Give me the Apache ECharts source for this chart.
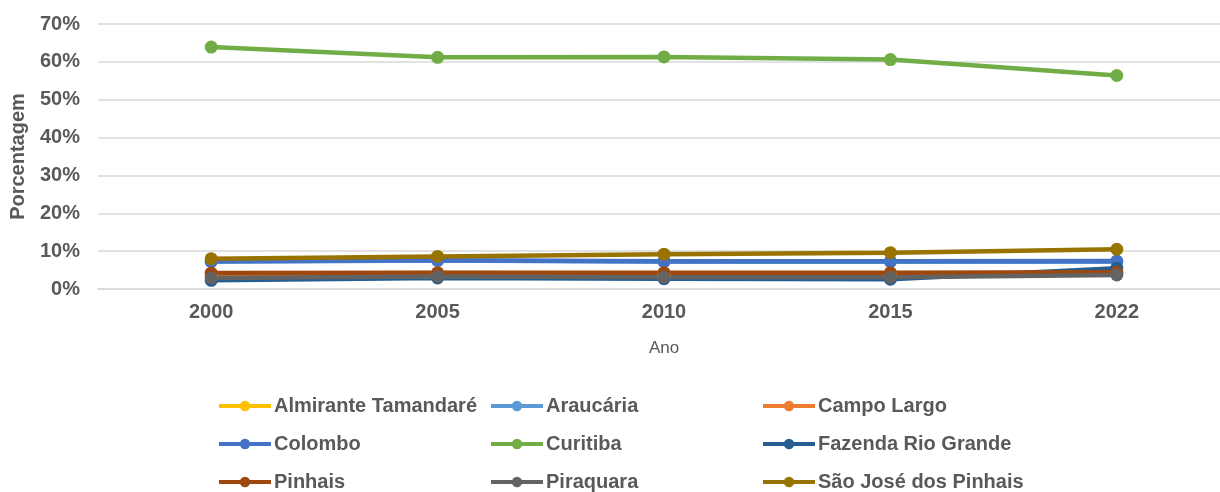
<!DOCTYPE html>
<html>
<head>
<meta charset="utf-8">
<script src="https://cdn.jsdelivr.net/npm/echarts@6/dist/echarts.min.js"></script>
<style>
  html, body { margin: 0; padding: 0; background: #ffffff; }
  #chart { width: 1220px; height: 492px; }
</style>
</head>
<body>
<div id="chart"></div>
<script>
// Participação (%) de cada município por ano
const years = ['2000', '2005', '2010', '2015', '2022'];
const yTicks = [0, 10, 20, 30, 40, 50, 60, 70];

const almiranteTamandare = [3.3, 3.5, 3.4, 3.4, 4.0];
const araucaria          = [7.2, 7.5, 7.2, 7.2, 7.2];
const campoLargo         = [4.0, 4.2, 4.1, 4.1, 4.2];
const colombo            = [7.3, 7.6, 7.3, 7.3, 7.4];
const curitiba           = [63.9, 61.2, 61.3, 60.6, 56.4];
const fazendaRioGrande   = [2.3, 2.9, 2.7, 2.6, 5.5];
const pinhais            = [4.2, 4.3, 4.3, 4.3, 4.4];
const piraquara          = [2.9, 3.3, 3.1, 3.1, 3.7];
const saoJoseDosPinhais  = [8.0, 8.6, 9.2, 9.6, 10.5];

const seriesDefs = [
  ['Almirante Tamandaré', almiranteTamandare, '#FFC000'],
  ['Araucária',           araucaria,          '#5B9BD5'],
  ['Campo Largo',         campoLargo,         '#ED7D31'],
  ['Colombo',             colombo,            '#4472C4'],
  ['Curitiba',            curitiba,           '#70AD47'],
  ['Fazenda Rio Grande',  fazendaRioGrande,   '#255E91'],
  ['Pinhais',             pinhais,            '#9E480E'],
  ['Piraquara',           piraquara,          '#636363'],
  ['São José dos Pinhais', saoJoseDosPinhais, '#997300']
];

const textColor = '#595959';
const fontFamily = '"Liberation Sans", Arial, sans-serif';

const chart = echarts.init(document.getElementById('chart'), null, { renderer: 'canvas' });

chart.setOption({
  animation: false,
  backgroundColor: '#ffffff',
  grid: { left: 98, right: -10, top: 24, bottom: 203, containLabel: false, outerBoundsMode: 'none' },
  xAxis: {
    type: 'category',
    data: years,
    boundaryGap: true,
    name: 'Ano',
    nameLocation: 'middle',
    nameGap: 51,
    nameTextStyle: { color: textColor, fontSize: 17, fontFamily: fontFamily },
    axisLine: { show: true, lineStyle: { color: '#d9d9d9', width: 1.5 } },
    axisTick: { show: false },
    axisLabel: { color: textColor, fontSize: 20, fontWeight: 'bold', fontFamily: fontFamily, margin: 13 }
  },
  yAxis: {
    type: 'value',
    min: yTicks[0],
    max: yTicks[yTicks.length - 1],
    interval: 10,
    name: 'Porcentagem',
    nameLocation: 'middle',
    nameGap: 70,
    nameTextStyle: { color: textColor, fontSize: 20, fontWeight: 'bold', fontFamily: fontFamily },
    axisLine: { show: false },
    axisTick: { show: false },
    axisLabel: { color: textColor, fontSize: 20, fontWeight: 'bold', fontFamily: fontFamily, margin: 18, formatter: '{value}%' },
    splitLine: { lineStyle: { color: '#d9d9d9', width: 1.5 } }
  },
  legend: {
    left: 217,
    top: 387,
    width: 830,
    padding: 0,
    itemGap: 0,
    itemWidth: 52,
    itemHeight: 13,
    lineStyle: { width: 4 },
    textStyle: { color: textColor, fontSize: 20, fontWeight: 'bold', fontFamily: fontFamily, width: 215, lineHeight: 38, padding: [0, 0, 0, -2] },
    data: seriesDefs.map(d => d[0])
  },
  series: seriesDefs.map(([name, values, color]) => ({
    name: name,
    type: 'line',
    data: values,
    symbol: 'circle',
    symbolSize: 13,
    lineStyle: { color: color, width: 4.5 },
    itemStyle: { color: color },
    emphasis: { disabled: true }
  }))
});
</script>
</body>
</html>
